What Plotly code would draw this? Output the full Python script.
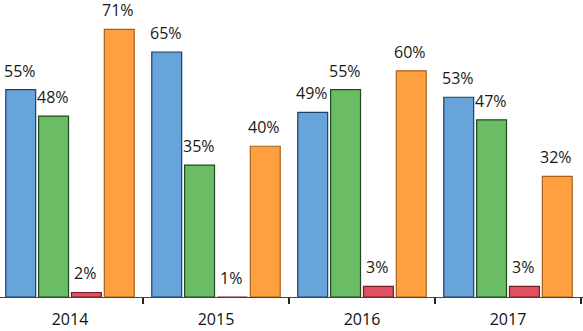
import plotly.graph_objects as go

years = ["2014", "2015", "2016", "2017"]
series_names = ["A", "B", "C", "D"]
blue_vals = [55, 65, 49, 53]
green_vals = [48, 35, 55, 47]
red_vals = [1.2, 0.0, 2.8, 2.8]
orange_vals = [71, 40, 60, 32]
blue_labels = ["55%", "65%", "49%", "53%"]
green_labels = ["48%", "35%", "55%", "47%"]
red_labels = ["2%", "1%", "3%", "3%"]
orange_labels = ["71%", "40%", "60%", "32%"]

values = [blue_vals, green_vals, red_vals, orange_vals]
labels = [blue_labels, green_labels, red_labels, orange_labels]
fills = ["#66a4da", "#6abd64", "#e0505f", "#ffa040"]
edges = ["#1f3f66", "#1f4a1f", "#7a1a26", "#a8601a"]

W, H = 583, 331
ml, mr, mt, mb = 0, 0, 0, 34
cat_px = 146.0
x0 = -0.5 + 3 / cat_px
x1 = x0 + (W - ml - mr) / cat_px
y_top = 78.8

bargap = 0.10
bargroupgap = 0.09

fig = go.Figure()
for i, (name, v) in enumerate(zip(series_names, values)):
    fig.add_trace(go.Bar(
        x=years, y=v, name=name,
        marker=dict(color=fills[i], line=dict(color=edges[i], width=1.2)),
        hoverinfo="skip",
    ))

# value labels as annotations, offset per series within group
slot_px = cat_px * (1 - bargap) / 4
annotations = []
for i, (v, lab) in enumerate(zip(values, labels)):
    for j, yr in enumerate(years):
        annotations.append(dict(
            x=j, y=v[j], text=lab[j], showarrow=False,
            xanchor="center", yanchor="bottom", borderpad=0,
            xshift=(i - 1.5) * slot_px - 1, yshift=7,
            font=dict(family="Open Sans", size=16, color="#1a1a1a"),
        ))

fig.update_layout(
    width=W, height=H,
    margin=dict(l=ml, r=mr, t=mt, b=mb),
    paper_bgcolor="white", plot_bgcolor="white",
    barmode="group", bargap=bargap, bargroupgap=bargroupgap,
    showlegend=False,
    annotations=annotations,
    xaxis=dict(
        type="category", range=[x0, x1],
        showline=True, linecolor="#444", linewidth=1,
        ticks="outside", tickson="boundaries", ticklen=6, tickcolor="#222", tickwidth=1.5,
        ticklabelstandoff=8,
        tickfont=dict(family="Open Sans", size=16, color="#111"),
        showgrid=False, zeroline=False,
    ),
    yaxis=dict(range=[0, y_top], visible=False, showgrid=False, zeroline=False),
)

fig.write_html("out.html", config={"displayModeBar": False},
               post_script="document.body.style.margin='0';")
